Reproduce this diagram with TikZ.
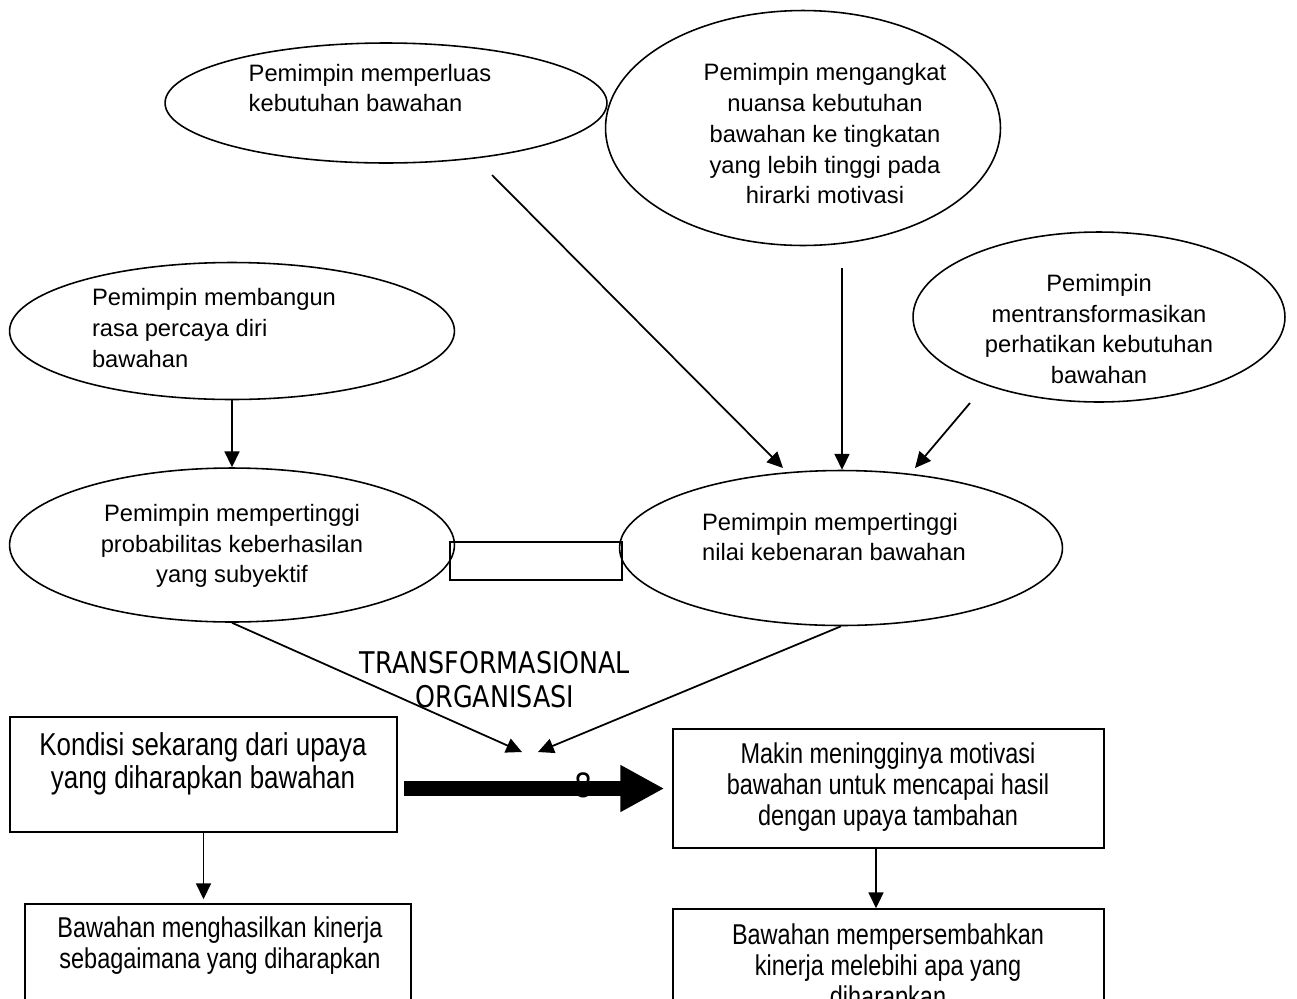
\documentclass[tikz,border=0pt]{standalone}
\usepackage{fontspec}
\setmainfont{Liberation Sans}
\newfontfamily\narrowfont[FakeStretch=0.82]{Liberation Sans}
\newfontfamily\judulfont[FakeStretch=0.85]{DejaVu Sans}
\usetikzlibrary{shapes.geometric,arrows.meta}

\begin{document}
\begin{tikzpicture}[x=0.02cm, y=-0.02cm, line width=0.9pt,
    bubble/.style={draw, ellipse, inner sep=0pt},
    kotak/.style={draw, rectangle, inner sep=0pt},
    isi/.style={inner sep=0pt, font=\fontsize{13.5}{17.5}\selectfont},
    isibox/.style={inner sep=0pt, align=center, font=\narrowfont\fontsize{16.3}{17.6}\selectfont},
    judul/.style={inner sep=0pt, align=center, font=\judulfont\fontsize{17}{19.3}\selectfont},
    panah/.style={line width=1pt, -{Triangle[length=9pt,width=8.5pt]}},
    panahbesar/.style={line width=9pt, -{Triangle[length=25pt,width=25pt]}}]

\useasboundingbox (0,0) rectangle (1297,998);
\clip (0,0) rectangle (1297,998);

% ellips
\node[bubble, minimum width=8.84cm, minimum height=2.4cm] (perluas) at (386,103) {};
\node[bubble, minimum width=7.9cm, minimum height=4.7cm] (angkat) at (803,128) {};
\node[bubble, minimum width=7.44cm, minimum height=3.4cm] (transformasi) at (1099,317) {};
\node[bubble, minimum width=8.9cm, minimum height=2.74cm] (bangun) at (232,331) {};
\node[bubble, minimum width=8.9cm, minimum height=3.08cm] (probabilitas) at (232,545) {};
\node[bubble, minimum width=8.86cm, minimum height=3.1cm] (kebenaran) at (841,548) {};
\node[kotak, minimum width=3.44cm, minimum height=0.76cm] (penghubung) at (536,561) {};

\node[isi, align=left] (perluas-t) at (370,88) {Pemimpin memperluas\\kebutuhan bawahan};
\node[isi, align=center] (angkat-t) at (825,134) {Pemimpin mengangkat\\nuansa kebutuhan\\bawahan ke tingkatan\\yang lebih tinggi pada\\hirarki motivasi};
\node[isi, align=center] (transformasi-t) at (1099,329) {Pemimpin\\mentransformasikan\\perhatikan kebutuhan\\bawahan};
\node[isi, align=left] (bangun-t) at (214,328) {Pemimpin membangun\\rasa percaya diri\\bawahan};
\node[isi, align=center] (probabilitas-t) at (232,546) {Pemimpin mempertinggi\\probabilitas keberhasilan\\yang subyektif};
\node[isi, align=left] (kebenaran-t) at (834,537) {Pemimpin mempertinggi\\nilai kebenaran bawahan};

% kotak bawah
\node[kotak, minimum width=7.74cm, minimum height=2.3cm] (kondisi) at (203.5,774.5) {};
\node[kotak, minimum width=8.62cm, minimum height=2.38cm] (makin) at (888.5,788.5) {};
\node[kotak, minimum width=7.72cm, minimum height=2.6cm] (hasil1) at (218,969) {};
\node[kotak, minimum width=8.62cm, minimum height=2.62cm] (hasil2) at (888.5,974.5) {};

\node[isibox, font=\narrowfont\fontsize{18}{18.5}\selectfont] (kondisi-t) at (203,764) {Kondisi sekarang dari upaya\\yang diharapkan bawahan};
\node[isibox] (makin-t) at (888,787) {Makin meningginya motivasi\\bawahan untuk mencapai hasil\\dengan upaya tambahan};
\node[isibox] (hasil1-t) at (220,946) {Bawahan menghasilkan kinerja\\sebagaimana yang diharapkan};
\node[isibox] (hasil2-t) at (888,968) {Bawahan mempersembahkan\\kinerja melebihi apa yang\\diharapkan};

\node[judul] (judul) at (495,680) {TRANSFORMASIONAL\\ORGANISASI};

% panah
\coordinate (a1s) at (492,175);
\coordinate (a1e) at (783,468);
\coordinate (a2s) at (842,268);
\coordinate (a3s) at (970,403);
\coordinate (a3e) at (915,468);
\coordinate (a5e) at (522,752);
\coordinate (a6e) at (538,752);

\draw[panah] (a1s) -- (a1e);
\draw[panah] (a2s) -- (a2s |- kebenaran.north);
\draw[panah] (a3s) -- (a3e);
\draw[panah] (bangun.south) -- (probabilitas.north);
\draw[panah] (probabilitas.south) -- (a5e);
\draw[panah] (kebenaran.south) -- (a6e);
\draw[panah, shorten >=0.08cm] (kondisi.south) -- (kondisi.south |- hasil1.north);
\draw[panah] ([xshift=-0.25cm]makin.south) -- ([xshift=-0.25cm]makin.south |- hasil2.north);

\draw[panahbesar, shorten <=0.12cm, shorten >=0.16cm] (kondisi.east |- makin.west) -- (makin.west);
\node[judul, font=\judulfont\fontsize{19}{19}\selectfont] (angka) at (584,785) {8};

\end{tikzpicture}
\end{document}
